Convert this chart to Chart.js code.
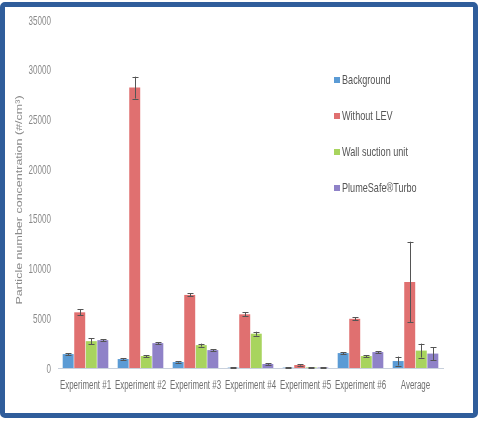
<!DOCTYPE html>
<html>
<head>
<meta charset="utf-8">
<script src="https://cdn.jsdelivr.net/npm/chart.js@4.4.1/dist/chart.umd.min.js"></script>
<style>
html,body{margin:0;padding:0;background:#fff;}
#wrap{position:relative;width:481px;height:422px;overflow:hidden;background:#fff;}
#frame{position:absolute;left:0px;top:2px;width:468px;height:406px;border:5px solid #2f5d9b;border-radius:5px;pointer-events:none;}
canvas{position:absolute;left:0;top:0;}
</style>
</head>
<body>
<div id="wrap">
<canvas id="c" width="481" height="422"></canvas>
<div id="frame"></div>
</div>
<script>
const categories = ['Experiment #1','Experiment #2','Experiment #3','Experiment #4','Experiment #5','Experiment #6','Average'];
const seriesNames = ['Background','Without LEV','Wall suction unit','PlumeSafe\u00AETurbo'];
const background  = [1400, 900, 600, 40, 40, 1500, 700];
const withoutLEV  = [5600, 28200, 7350, 5400, 300, 4950, 8650];
const wallSuction = [2700, 1200, 2300, 3450, 60, 1200, 1750];
const plumeSafe   = [2800, 2500, 1800, 400, 50, 1600, 1450];
const backgroundErr  = [100, 80, 60, 20, 20, 100, 450];
const withoutLEVErr  = [300, 1100, 150, 200, 60, 150, 4050];
const wallSuctionErr = [300, 100, 150, 200, 20, 100, 700];
const plumeSafeErr   = [100, 100, 100, 80, 20, 100, 650];
const yTicks = [0, 5000, 10000, 15000, 20000, 25000, 30000, 35000];
const yTitle = 'Particle number concentration (#/cm\u00B3)';

const colors = ['#5b9bd5', '#e07070', '#a8d45e', '#8f82c8'];
const FONT = '"Liberation Sans", Arial, sans-serif';

function squishText(ctx, text, x, y, align, sx) {
  ctx.save();
  ctx.translate(x, y);
  ctx.scale(sx, 1);
  ctx.textAlign = align;
  ctx.fillText(text, 0, 0);
  ctx.restore();
}

const errorBars = {
  id: 'errorBars',
  afterDatasetsDraw(chart) {
    const ctx = chart.ctx;
    const y = chart.scales.y;
    ctx.save();
    ctx.strokeStyle = '#555';
    ctx.lineWidth = 1;
    chart.data.datasets.forEach((ds, di) => {
      const meta = chart.getDatasetMeta(di);
      meta.data.forEach((bar, i) => {
        const v = ds.data[i], e = ds.errors[i];
        if (!e) return;
        const x = Math.round(bar.x) + 0.5;
        const yt = y.getPixelForValue(v + e), yb = y.getPixelForValue(v - e);
        ctx.beginPath();
        ctx.moveTo(x, yt); ctx.lineTo(x, yb);
        ctx.moveTo(x - 3, Math.round(yt) + 0.5); ctx.lineTo(x + 3, Math.round(yt) + 0.5);
        ctx.moveTo(x - 3, Math.round(yb) + 0.5); ctx.lineTo(x + 3, Math.round(yb) + 0.5);
        ctx.stroke();
      });
    });
    ctx.restore();
  }
};

const labelsPlugin = {
  id: 'labels',
  afterDraw(chart) {
    const ctx = chart.ctx;
    const xs = chart.scales.x, ys = chart.scales.y;
    ctx.save();
    ctx.textBaseline = 'middle';
    // y tick labels
    ctx.font = '13px ' + FONT;
    ctx.fillStyle = '#8a8a8a';
    yTicks.forEach(v => squishText(ctx, String(v), 51, ys.getPixelForValue(v) + 1, 'right', 0.62));
    // y axis title (rotated)
    ctx.save();
    ctx.translate(19, 200);
    ctx.rotate(-Math.PI / 2);
    ctx.scale(1, 0.75);
    ctx.font = '12.5px ' + FONT;
    ctx.textAlign = 'center';
    ctx.fillText(yTitle, 0, 0);
    ctx.restore();
    // x tick labels
    ctx.font = '12px ' + FONT;
    ctx.fillStyle = '#707070';
    categories.forEach((c, i) => squishText(ctx, c, xs.getPixelForTick(i), 386, 'center', 0.66));
    // legend
    ctx.font = '13px ' + FONT;
    chart.data.datasets.forEach((ds, i) => {
      const yy = 80 + i * 36;
      ctx.fillStyle = ds.backgroundColor;
      ctx.fillRect(334, yy - 3, 6, 6);
      ctx.fillStyle = '#555';
      squishText(ctx, ds.label, 342, yy, 'left', 0.7);
    });
    ctx.restore();
  }
};

const seriesData = [background, withoutLEV, wallSuction, plumeSafe];
const seriesErr = [backgroundErr, withoutLEVErr, wallSuctionErr, plumeSafeErr];

new Chart(document.getElementById('c'), {
  type: 'bar',
  data: {
    labels: categories,
    datasets: seriesNames.map((n, i) => ({
      label: n,
      data: seriesData[i],
      errors: seriesErr[i],
      backgroundColor: colors[i],
      categoryPercentage: 0.84,
      barPercentage: 0.95
    }))
  },
  options: {
    responsive: false,
    animation: false,
    layout: { padding: { left: 8, right: 38, top: 20, bottom: 0 } },
    plugins: { legend: { display: false }, tooltip: { enabled: false } },
    scales: {
      x: {
        grid: { display: false, drawTicks: false },
        border: { display: true, color: '#c8d0dc', width: 1 },
        ticks: { display: false },
        afterFit(s) { s.height = 54; }
      },
      y: {
        min: 0, max: 35000,
        afterBuildTicks(s) { s.ticks = yTicks.map(v => ({ value: v })); },
        grid: { display: false, drawTicks: false },
        border: { display: false },
        ticks: { display: false },
        afterFit(s) { s.width = 50; }
      }
    }
  },
  plugins: [errorBars, labelsPlugin]
});
</script>
</body>
</html>
